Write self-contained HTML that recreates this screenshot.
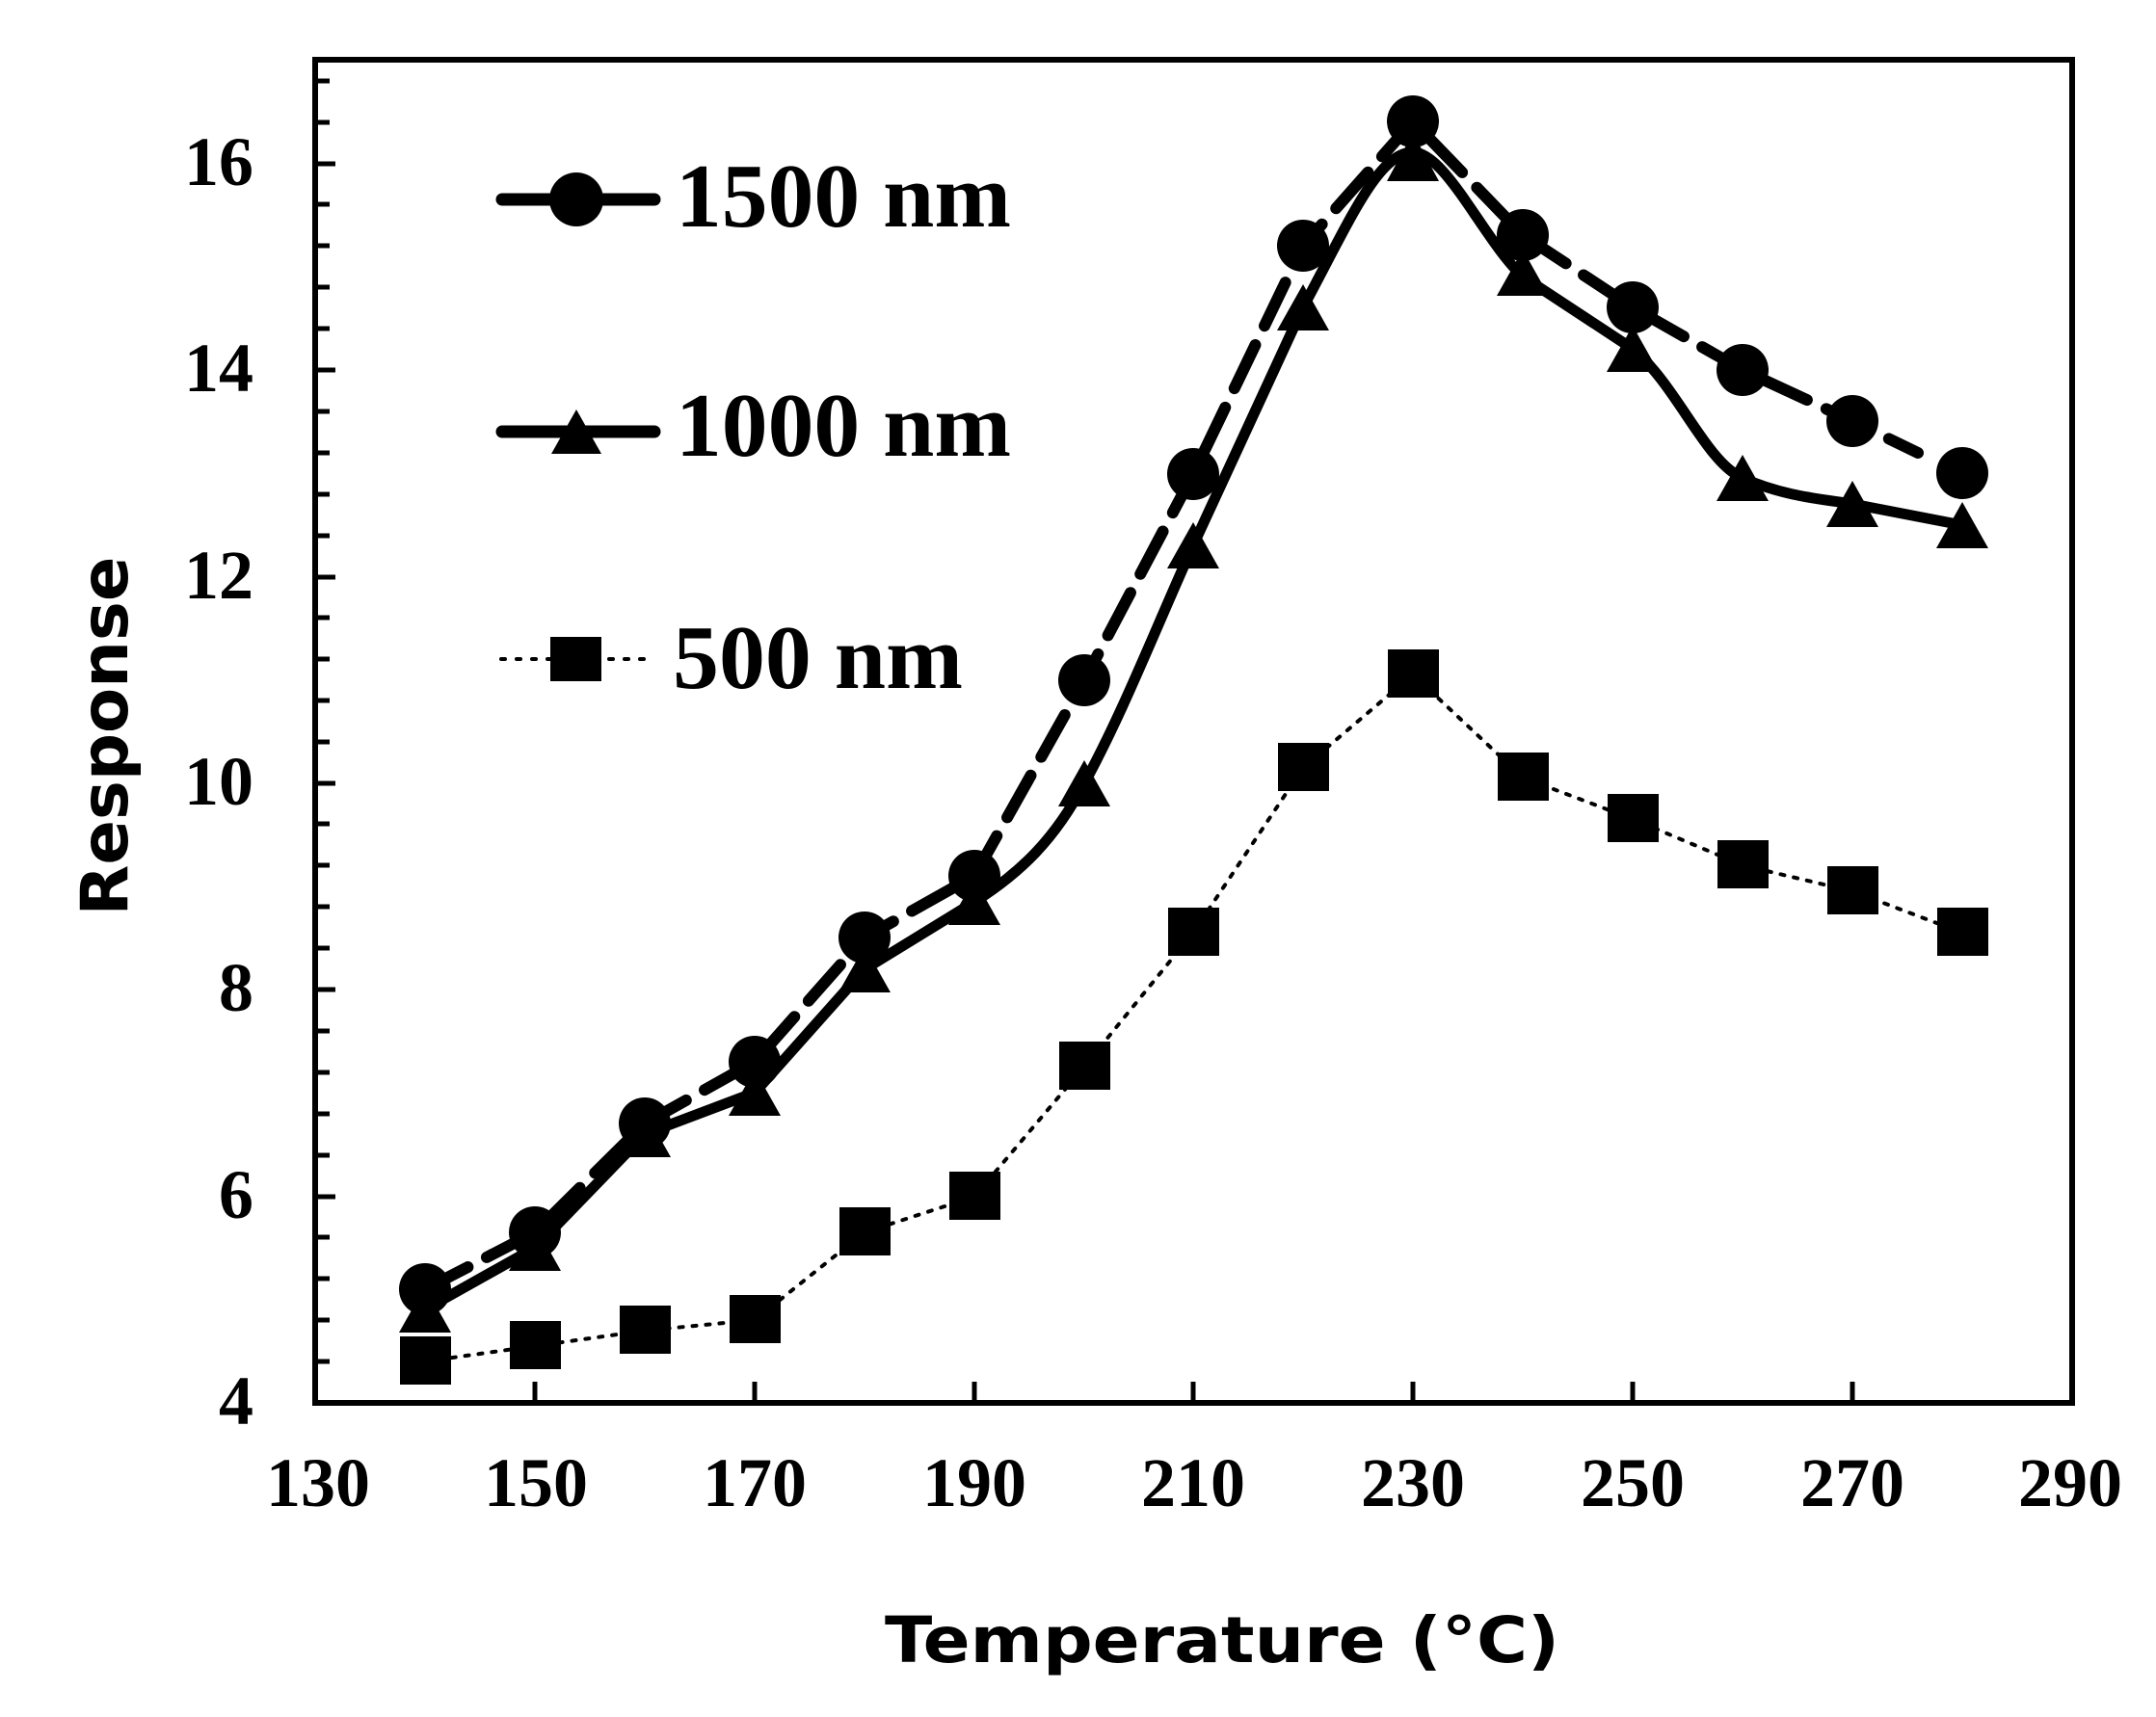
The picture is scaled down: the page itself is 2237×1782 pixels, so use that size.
<!DOCTYPE html>
<html><head><meta charset="utf-8"><style>
html,body{margin:0;padding:0;background:#fff;}
svg{display:block;}
.t{font-family:"Liberation Serif",serif;font-weight:bold;}
.s{font-family:"DejaVu Sans","Liberation Sans",sans-serif;font-weight:bold;}
</style></head><body>
<svg width="2237" height="1782" viewBox="0 0 2237 1782" xmlns="http://www.w3.org/2000/svg">
<!-- axes -->
<rect x="327" y="62" width="1823" height="1394" fill="none" stroke="#000" stroke-width="6"/>
<!-- y ticks: major every 2, minor every 0.4 -->
<g stroke="#000" stroke-width="5">
<path d="M327 1456h21M327 1242h21M327 1027h21M327 813h21M327 599h21M327 384h21M327 170h21"/>
<path d="M327 1413h15M327 1370h15M327 1327h15M327 1284h15M327 1199h15M327 1156h15M327 1113h15M327 1070h15M327 984h15M327 941h15M327 898h15M327 855h15M327 770h15M327 727h15M327 684h15M327 641h15M327 556h15M327 513h15M327 470h15M327 427h15M327 341h15M327 298h15M327 255h15M327 212h15M327 127h15M327 84h15"/>
<path d="M555 1456v-22M783 1456v-22M1011 1456v-22M1238 1456v-22M1466 1456v-22M1694 1456v-22M1922 1456v-22"/>
</g>
<!-- y labels -->
<g class="t" font-size="72" text-anchor="end">
<text x="263" y="1478">4</text>
<text x="263" y="1264">6</text>
<text x="263" y="1049">8</text>
<text x="263" y="835">10</text>
<text x="263" y="621">12</text>
<text x="263" y="406">14</text>
<text x="263" y="192">16</text>
</g>
<g class="t" font-size="72" text-anchor="middle">
<text x="330" y="1563">130</text>
<text x="556" y="1563">150</text>
<text x="783" y="1563">170</text>
<text x="1011" y="1563">190</text>
<text x="1238" y="1563">210</text>
<text x="1466" y="1563">230</text>
<text x="1694" y="1563">250</text>
<text x="1922" y="1563">270</text>
<text x="2148" y="1563">290</text>
</g>
<text class="s" x="1268" y="1725" font-size="66" text-anchor="middle" textLength="700" lengthAdjust="spacingAndGlyphs">Temperature (°C)</text>
<text class="s" font-size="68" text-anchor="middle" transform="translate(132,764) rotate(-90)" textLength="373" lengthAdjust="spacingAndGlyphs">Response</text>

<!-- 500 nm dotted -->
<polyline fill="none" stroke="#000" stroke-width="4" stroke-dasharray="4 10" stroke-linecap="round"
points="441,1413 555,1397 669,1381 783,1370 897,1279 1011,1242 1125,1107 1238,968 1352,797 1466,700 1580,807 1694,850 1808,898 1922,925 2036,968"/>
<g fill="#000">
<rect x="415" y="1387" width="53" height="50"/><rect x="529" y="1371" width="53" height="50"/>
<rect x="643" y="1355" width="53" height="50"/><rect x="757" y="1344" width="53" height="50"/>
<rect x="871" y="1253" width="53" height="50"/><rect x="985" y="1216" width="53" height="50"/>
<rect x="1099" y="1081" width="53" height="50"/><rect x="1212" y="942" width="53" height="50"/>
<rect x="1326" y="771" width="53" height="50"/><rect x="1440" y="674" width="53" height="50"/>
<rect x="1554" y="781" width="53" height="50"/><rect x="1668" y="824" width="53" height="50"/>
<rect x="1782" y="872" width="53" height="50"/><rect x="1896" y="899" width="53" height="50"/>
<rect x="2010" y="942" width="53" height="50"/>
</g>

<!-- 1500 nm dashed -->
<polyline fill="none" stroke="#000" stroke-width="12" stroke-dasharray="50 22" stroke-linecap="round" stroke-linejoin="round"
points="441,1338 555,1279 669,1166 783,1102 897,973 1011,909 1125,706 1238,492 1352,255 1466,126 1580,244 1694,319 1808,384 1922,437 1990,470"/>
<g fill="#000">
<circle cx="441" cy="1338" r="27"/><circle cx="555" cy="1279" r="27"/><circle cx="669" cy="1166" r="27"/>
<circle cx="783" cy="1102" r="27"/><circle cx="897" cy="973" r="27"/><circle cx="1011" cy="909" r="27"/>
<circle cx="1125" cy="706" r="27"/><circle cx="1238" cy="492" r="27"/><circle cx="1352" cy="255" r="27"/>
<circle cx="1466" cy="126" r="27"/><circle cx="1580" cy="244" r="27"/><circle cx="1694" cy="319" r="27"/>
<circle cx="1808" cy="384" r="27"/><circle cx="1922" cy="437" r="27"/><circle cx="2036" cy="491" r="27"/>
</g>

<!-- 1000 nm solid -->
<path fill="none" stroke="#000" stroke-width="11" stroke-linejoin="round"
d="M441,1359 L555,1295 L669,1177 L783,1134 L897,1006 L1011,936 C1060,905 1095,870 1125,813 C1165,740 1200,650 1238,566 L1352,319 C1400,230 1430,158 1466,158 C1500,158 1540,250 1580,287 L1694,362 C1740,400 1770,480 1808,496 C1850,515 1890,518 1922,523 L2036,545"/>
<g fill="#000">
<polygon points="441,1335 414,1383 468,1383"/><polygon points="555,1271 528,1319 582,1319"/>
<polygon points="669,1153 642,1201 696,1201"/><polygon points="783,1110 756,1158 810,1158"/>
<polygon points="897,982 870,1030 924,1030"/><polygon points="1011,912 984,960 1038,960"/>
<polygon points="1125,789 1098,837 1152,837"/><polygon points="1238,542 1211,590 1265,590"/>
<polygon points="1352,295 1325,343 1379,343"/><polygon points="1466,138 1439,188 1493,188"/>
<polygon points="1580,259 1553,307 1607,307"/><polygon points="1694,338 1667,386 1721,386"/>
<polygon points="1808,472 1781,520 1835,520"/><polygon points="1922,499 1895,547 1949,547"/>
<polygon points="2036,521 2009,569 2063,569"/>
</g>

<!-- legend -->
<line x1="521" y1="207" x2="679" y2="207" stroke="#000" stroke-width="13" stroke-linecap="round"/>
<circle cx="598" cy="207" r="28" fill="#000"/>
<text class="t" x="701" y="235" font-size="94" textLength="348" lengthAdjust="spacingAndGlyphs">1500 nm</text>
<line x1="521" y1="448" x2="679" y2="448" stroke="#000" stroke-width="13" stroke-linecap="round"/>
<polygon points="598,425 572,471 624,471" fill="#000"/>
<text class="t" x="701" y="473" font-size="94" textLength="348" lengthAdjust="spacingAndGlyphs">1000 nm</text>
<line x1="520" y1="684" x2="670" y2="684" stroke="#000" stroke-width="4" stroke-dasharray="4 12" stroke-linecap="round"/>
<rect x="571" y="661" width="53" height="46" fill="#000"/>
<text class="t" x="698" y="714" font-size="94" textLength="301" lengthAdjust="spacingAndGlyphs">500 nm</text>
</svg>
</body></html>
